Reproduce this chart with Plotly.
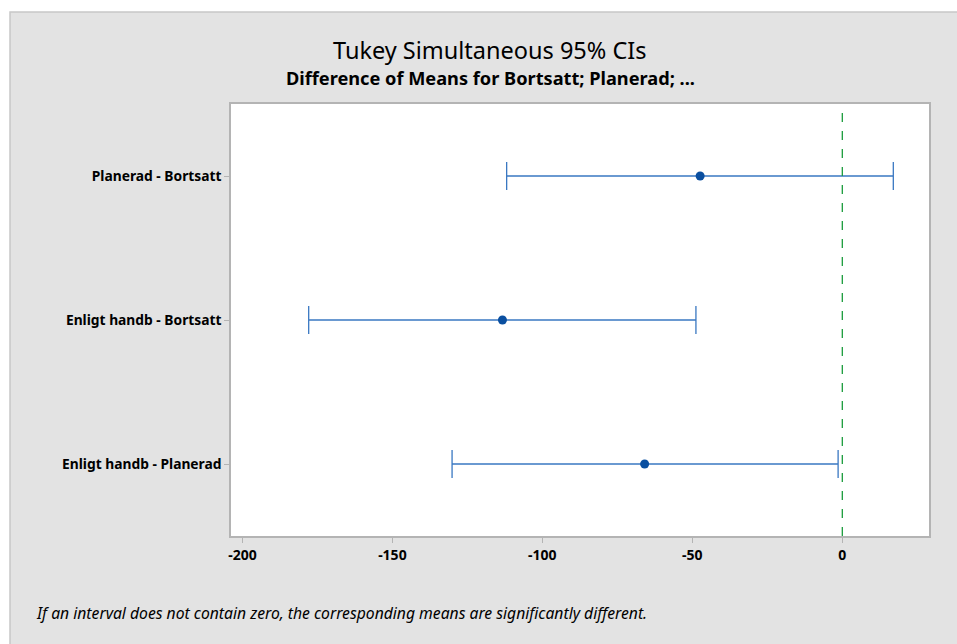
import plotly.graph_objects as go

comparisons = ["Planerad - Bortsatt", "Enligt handb - Bortsatt", "Enligt handb - Planerad"]
lower = [-111.9, -177.9, -130.1]
mean = [-47.4, -113.3, -65.9]
upper = [17.0, -48.8, -1.4]
x_ticks = [-200, -150, -100, -50, 0]
x_tick_labels = ["-200", "-150", "-100", "-50", "0"]

title_text = "Tukey Simultaneous 95% CIs"
subtitle_text = "Difference of Means for Bortsatt; Planerad; ..."
footnote_text = "If an interval does not contain zero, the corresponding means are significantly different."

W, H = 957, 644
L, R, T, B = 231, 929, 104, 536
pw, ph = R - L, B - T

def px(xp):
    return (xp - L) / pw

def py(yp):
    return (B - yp) / ph

fig = go.Figure()
fig.add_trace(go.Scatter(
    x=mean, y=comparisons, mode="markers",
    marker=dict(color="#0a4fa0", size=9),
    error_x=dict(type="data", symmetric=False,
                 array=[u - m for u, m in zip(upper, mean)],
                 arrayminus=[m - l for m, l in zip(mean, lower)],
                 color="#3a78c2", thickness=1.3, width=14),
    showlegend=False, hoverinfo="skip",
))

font_fam = "Noto Sans, Open Sans, sans-serif"

fig.update_layout(
    width=W, height=H,
    margin=dict(l=L, r=W - R, t=T, b=H - B),
    paper_bgcolor="#e3e3e3", plot_bgcolor="white",
    font=dict(family=font_fam, color="black"),
    xaxis=dict(range=[-203.8, 28.9], tickvals=x_ticks, ticktext=x_tick_labels,
               ticks="outside", ticklen=5,
               tickcolor="#b4b4b4", showgrid=False, zeroline=False,
               showline=True, linecolor="#b4b4b4", linewidth=1.5, mirror=True,
               tickfont=dict(size=14, color="black", family=font_fam, weight="bold")),
    yaxis=dict(type="category", categoryorder="array", categoryarray=comparisons,
               range=[2.5, -0.5], ticks="outside", ticklen=5, tickcolor="#b4b4b4",
               showgrid=False, zeroline=False, showline=True, linecolor="#b4b4b4",
               linewidth=1.5, mirror=True,
               tickfont=dict(size=13.8, color="black", family=font_fam, weight="bold")),
    shapes=[
        dict(type="rect", xref="paper", yref="paper", x0=-0.5, x1=1.2, y0=py(12), y1=1.6,
             fillcolor="white", line=dict(width=0), layer="above"),
        dict(type="rect", xref="paper", yref="paper", x0=-0.5, x1=px(10), y0=-0.5, y1=1.6,
             fillcolor="white", line=dict(width=0), layer="above"),
        dict(type="rect", xref="paper", yref="paper", x0=px(10), x1=1.2, y0=-0.5, y1=py(12),
             fillcolor="rgba(0,0,0,0)", line=dict(color="#c8c8c8", width=1.5), layer="above"),
        dict(type="line", xref="x", yref="paper", x0=0, x1=0, y0=0, y1=1,
             line=dict(color="#1a9c3c", width=1.3, dash="dash"), layer="above"),
    ],
    annotations=[
        dict(text=title_text, xref="paper", yref="paper", x=px(490), y=py(50),
             showarrow=False, font=dict(size=23.5, family=font_fam), xanchor="center", yanchor="middle"),
        dict(text=subtitle_text, xref="paper", yref="paper", x=px(490), y=py(78),
             showarrow=False, font=dict(size=18.2, family=font_fam, weight="bold"),
             xanchor="center", yanchor="middle"),
        dict(text="<i>" + footnote_text + "</i>", xref="paper", yref="paper", x=px(34), y=py(613),
             showarrow=False, font=dict(size=15.7, family=font_fam), xanchor="left", yanchor="middle"),
    ],
)

fig.write_html("out.html", config={"displayModeBar": False},
               post_script="document.body.style.margin='0px';document.body.style.overflow='hidden';")
